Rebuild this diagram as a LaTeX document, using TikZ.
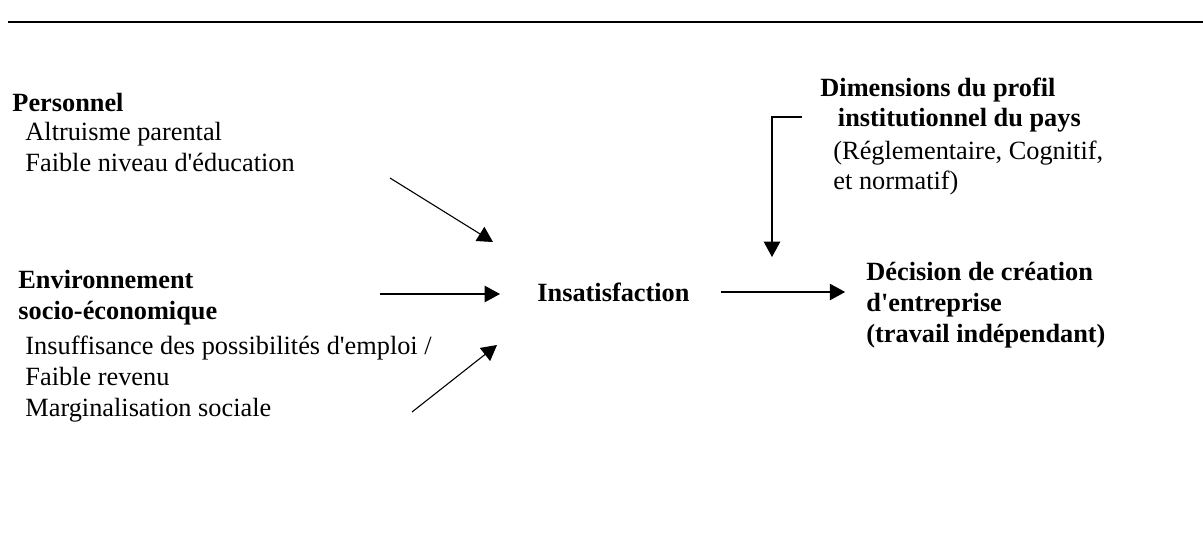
\documentclass[tikz,border=0pt]{standalone}
\usepackage{fontspec}
\setmainfont{Liberation Serif}
\usetikzlibrary{arrows.meta,positioning}

\begin{document}
\begin{tikzpicture}[x=0.456pt,y=-0.456pt,
    txt/.style={anchor=west,inner sep=0pt,align=left,font=\fontsize{12}{14}\selectfont},
    head/.style={txt,font=\fontsize{12}{14}\selectfont\bfseries},
    arr/.style={-{Triangle[length=7pt,width=7.5pt]},line width=0.5pt}]
    \useasboundingbox (0,0) rectangle (1203,536);
    \draw[line width=0.7pt] (8,22) -- (1203,22);
    % left blocks
    \node[head] (pers) at (12,102) {Personnel};
    \node[txt] (persitems) at (25,147) {Altruisme parental\\Faible niveau d\textquotesingle éducation};
    \node[head] (env) at (18,298) {Environnement\\socio-économique};
    \node[txt] (envitems) at (25,379) {Insuffisance des possibilités d\textquotesingle emploi /\\Faible revenu\\Marginalisation sociale};
    % centre and right
    \node[head] (insat) at (537,292) {Insatisfaction};
    \node[head] (dim) at (820,105) {Dimensions du profil\\\hspace*{8pt}institutionnel du pays};
    \node[txt] (dimitems) at (833,168) {(Réglementaire, Cognitif,\\et normatif)};
    \node[head] (dec) at (866,305) {Décision de création\\d\textquotesingle entreprise\\(travail indépendant)};
    % free ends of the arrows
    \coordinate (persout) at (390,178);
    \coordinate (persin) at (493,242);
    \coordinate (envout) at (380,294);
    \coordinate (envin) at (500,294);
    \coordinate (socout) at (412,412);
    \coordinate (socin) at (497,345);
    \coordinate (dimout) at (802,117);
    \coordinate (dimin) at (772,257);
    \draw[arr] (persout) -- (persin);
    \draw[arr] (envout) -- (envin);
    \draw[arr] (socout) -- (socin);
    \draw[arr,shorten <=14pt,shorten >=9.5pt] (insat.east) -- (insat.east -| dec.west);
    \draw[arr] (dimout) -| (dimin);
\end{tikzpicture}
\end{document}
